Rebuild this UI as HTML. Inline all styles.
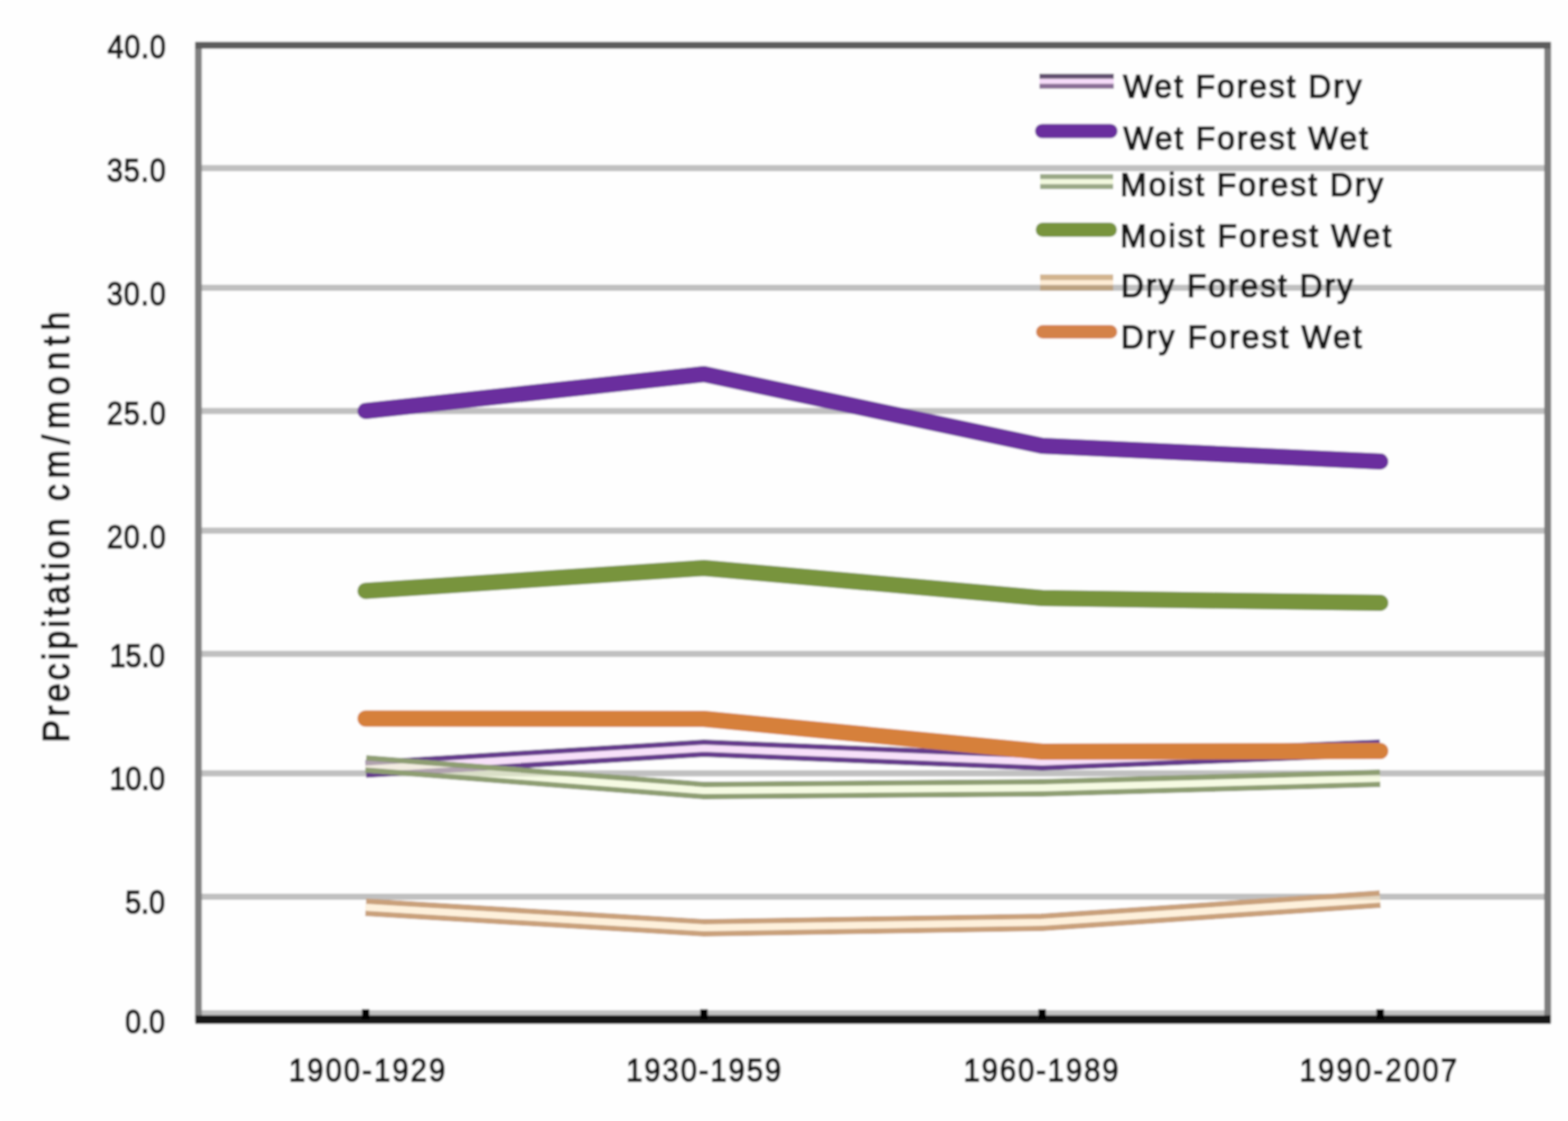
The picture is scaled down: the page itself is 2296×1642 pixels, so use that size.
<!DOCTYPE html>
<html>
<head>
<meta charset="utf-8">
<style>
html,body{margin:0;padding:0;background:#fff;}
body{width:2296px;height:1642px;overflow:hidden;}
svg{display:block;}
text{font-family:"Liberation Sans",Arial,sans-serif;fill:#141414;stroke:#141414;stroke-width:2.1px;stroke-linejoin:round;}
</style>
</head>
<body>
<svg width="2296" height="1642" viewBox="0 0 2296 1642">

<defs><mask id="mWFD" maskUnits="userSpaceOnUse" x="0" y="0" width="2296" height="1642"><path d="M535.4,1126.5 L1030.8,1096.0 L1526.0,1116.0 L2021.0,1096.0" fill="none" stroke="#fff" stroke-width="26"/><path d="M535.4,1126.5 L1030.8,1096.0 L1526.0,1116.0 L2021.0,1096.0" fill="none" stroke="#000" stroke-width="10"/></mask><mask id="mMFD" maskUnits="userSpaceOnUse" x="0" y="0" width="2296" height="1642"><path d="M535.4,1119.0 L1030.8,1158.0 L1526.0,1154.0 L2021.0,1140.0" fill="none" stroke="#fff" stroke-width="26"/><path d="M535.4,1119.0 L1030.8,1158.0 L1526.0,1154.0 L2021.0,1140.0" fill="none" stroke="#000" stroke-width="10"/></mask><mask id="mDFD" maskUnits="userSpaceOnUse" x="0" y="0" width="2296" height="1642"><path d="M535.4,1329.0 L1030.8,1359.0 L1526.0,1351.0 L2021.0,1317.0" fill="none" stroke="#fff" stroke-width="26"/><path d="M535.4,1329.0 L1030.8,1359.0 L1526.0,1351.0 L2021.0,1317.0" fill="none" stroke="#000" stroke-width="10"/></mask><filter id="soft" x="0" y="0" width="100%" height="100%" filterUnits="userSpaceOnUse"><feGaussianBlur stdDeviation="1.5"/></filter></defs>
<g filter="url(#soft)">
<rect x="0" y="0" width="2296" height="1642" fill="#fefefe"/>
<g stroke="#c0c0c0" stroke-width="9">
<line x1="290" y1="246.3" x2="2266" y2="246.3"/>
<line x1="290" y1="421.6" x2="2266" y2="421.6"/>
<line x1="290" y1="602.1" x2="2266" y2="602.1"/>
<line x1="290" y1="777.3" x2="2266" y2="777.3"/>
<line x1="290" y1="957.8" x2="2266" y2="957.8"/>
<line x1="290" y1="1132.8" x2="2266" y2="1132.8"/>
<line x1="290" y1="1313.5" x2="2266" y2="1313.5"/>
<line x1="290" y1="1484.3" x2="2266" y2="1484.3"/>
</g>
<line x1="290.5" y1="62.3" x2="290.5" y2="1497.5" stroke="#808080" stroke-width="10"/>
<line x1="2266.3" y1="62.3" x2="2266.3" y2="1497.5" stroke="#7c7c7c" stroke-width="10"/>
<line x1="286.0" y1="66.3" x2="2270.8" y2="66.3" stroke="#5c5c5c" stroke-width="10"/>
<line x1="286.0" y1="1493.5" x2="2270.8" y2="1493.5" stroke="#161616" stroke-width="12.5"/>
<g stroke="#050505" stroke-width="11">
<line x1="535.4" y1="1478" x2="535.4" y2="1493.5"/>
<line x1="1030.8" y1="1478" x2="1030.8" y2="1493.5"/>
<line x1="1526" y1="1478" x2="1526" y2="1493.5"/>
<line x1="2021" y1="1478" x2="2021" y2="1493.5"/>
</g>
<g fill="none" stroke-linejoin="round">
<path d="M535.4,1126.5 L1030.8,1096.0 L1526.0,1116.0 L2021.0,1096.0" stroke="#653a8c" stroke-width="26" mask="url(#mWFD)"/>
<path d="M535.4,1126.5 L1030.8,1096.0 L1526.0,1116.0 L2021.0,1096.0" stroke="#f2c8f6" stroke-width="10" opacity="0.55"/>
<path d="M535.4,602.0 L1030.8,548.0 L1526.0,653.0 L2021.0,676.0" stroke="#6a2f9e" stroke-width="24" stroke-linecap="round"/>
<path d="M535.4,1119.0 L1030.8,1158.0 L1526.0,1154.0 L2021.0,1140.0" stroke="#8e9e72" stroke-width="26" mask="url(#mMFD)"/>
<path d="M535.4,1119.0 L1030.8,1158.0 L1526.0,1154.0 L2021.0,1140.0" stroke="#eef8cc" stroke-width="10" opacity="0.55"/>
<path d="M535.4,865.5 L1030.8,832.0 L1526.0,876.0 L2021.0,883.0" stroke="#78943c" stroke-width="24" stroke-linecap="round"/>
<path d="M535.4,1329.0 L1030.8,1359.0 L1526.0,1351.0 L2021.0,1317.0" stroke="#c9a07a" stroke-width="26" mask="url(#mDFD)"/>
<path d="M535.4,1329.0 L1030.8,1359.0 L1526.0,1351.0 L2021.0,1317.0" stroke="#fde6c0" stroke-width="10" opacity="0.55"/>
<path d="M535.4,1052.6 L1030.8,1053.0 L1526.0,1101.0 L2021.0,1100.0" stroke="#d6803a" stroke-width="24" stroke-linecap="round"/>
</g>
<g fill="none">
<line x1="1522" y1="111.75" x2="1631" y2="111.75" stroke="#625070" stroke-width="7.5"/>
<line x1="1522" y1="126.25" x2="1631" y2="126.25" stroke="#8a6e96" stroke-width="7.5"/>
<line x1="1522" y1="119" x2="1631" y2="119" stroke="#f4cdf8" stroke-width="7" opacity="0.7"/>
<line x1="1526" y1="192" x2="1626" y2="192" stroke="#6a2f9e" stroke-width="21" stroke-linecap="round"/>
<line x1="1523" y1="258.75" x2="1630" y2="258.75" stroke="#9aa886" stroke-width="7.5"/>
<line x1="1523" y1="273.25" x2="1630" y2="273.25" stroke="#9aa886" stroke-width="7.5"/>
<line x1="1523" y1="266" x2="1630" y2="266" stroke="#eef8d2" stroke-width="7" opacity="0.7"/>
<line x1="1527" y1="336.5" x2="1625" y2="336.5" stroke="#78943c" stroke-width="21" stroke-linecap="round"/>
<line x1="1523" y1="406.25" x2="1630" y2="406.25" stroke="#d2b48e" stroke-width="8.5"/>
<line x1="1523" y1="421.75" x2="1630" y2="421.75" stroke="#bca282" stroke-width="8.5"/>
<line x1="1523" y1="414" x2="1630" y2="414" stroke="#fde4c4" stroke-width="7" opacity="0.7"/>
<line x1="1527" y1="486" x2="1626" y2="486" stroke="#d4824a" stroke-width="20" stroke-linecap="round"/>
</g>
<g font-size="49">
<text transform="translate(1644.4,143.3) scale(0.95,1)" textLength="367.82" lengthAdjust="spacing">Wet Forest Dry</text>
<text transform="translate(1645.0,218.6) scale(0.95,1)" textLength="376.84" lengthAdjust="spacing">Wet Forest Wet</text>
<text transform="translate(1640.2,287.1) scale(0.95,1)" textLength="405.45" lengthAdjust="spacing">Moist Forest Dry</text>
<text transform="translate(1640.2,362) scale(0.95,1)" textLength="417.86" lengthAdjust="spacing">Moist Forest Wet</text>
<text transform="translate(1641.2,435.3) scale(0.95,1)" textLength="357.72" lengthAdjust="spacing">Dry Forest Dry</text>
<text transform="translate(1641.2,510.2) scale(0.95,1)" textLength="371.40" lengthAdjust="spacing">Dry Forest Wet</text>
</g>
<g font-size="49">
<text transform="translate(157.4,85.2) scale(0.86,1)" textLength="99.14" lengthAdjust="spacing">40.0</text>
<text transform="translate(156.4,265.6) scale(0.86,1)" textLength="100.42" lengthAdjust="spacing">35.0</text>
<text transform="translate(156.4,446.5) scale(0.86,1)" textLength="100.42" lengthAdjust="spacing">30.0</text>
<text transform="translate(156.4,622.1) scale(0.86,1)" textLength="100.42" lengthAdjust="spacing">25.0</text>
<text transform="translate(156.4,802.5) scale(0.86,1)" textLength="100.42" lengthAdjust="spacing">20.0</text>
<text transform="translate(160.6,977.3) scale(0.86,1)" textLength="94.35" lengthAdjust="spacing">15.0</text>
<text transform="translate(160.6,1157.3) scale(0.86,1)" textLength="94.35" lengthAdjust="spacing">10.0</text>
<text transform="translate(183.2,1338.4) scale(0.86,1)" textLength="68.00" lengthAdjust="spacing">5.0</text>
<text transform="translate(183.2,1513.1) scale(0.86,1)" textLength="68.00" lengthAdjust="spacing">0.0</text>
</g>
<g font-size="48.5">
<text transform="translate(423.0,1583.8) scale(0.88,1)" textLength="260.11" lengthAdjust="spacing">1900-1929</text>
<text transform="translate(917.0,1583.8) scale(0.88,1)" textLength="257.61" lengthAdjust="spacing">1930-1959</text>
<text transform="translate(1411.0,1583.8) scale(0.88,1)" textLength="257.61" lengthAdjust="spacing">1960-1989</text>
<text transform="translate(1903.0,1583.8) scale(0.88,1)" textLength="261.86" lengthAdjust="spacing">1990-2007</text>
</g>
<text font-size="55" transform="translate(100.5,0) rotate(-90) scale(0.9,1)"><tspan x="-1208.22" textLength="364.56" lengthAdjust="spacing">Precipitation</tspan> <tspan x="-815.56" textLength="308.22" lengthAdjust="spacing">cm/month</tspan></text>
</g>
</svg>
</body>
</html>
